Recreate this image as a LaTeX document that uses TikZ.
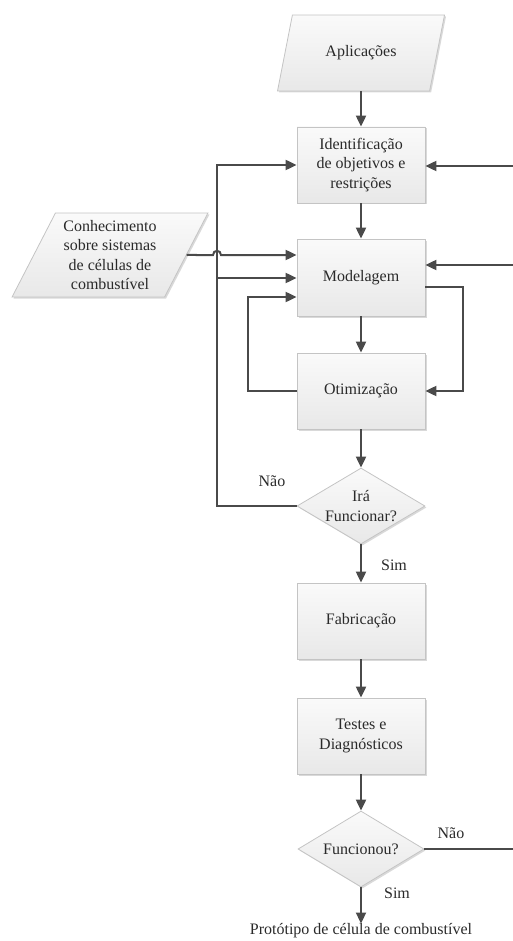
\documentclass[tikz,border=0pt]{standalone}
\usepackage{fontspec}
\setmainfont{Liberation Serif}
\usetikzlibrary{shapes.geometric,arrows.meta,shadows,calc}
\definecolor{linec}{HTML}{4A4A4A}
\definecolor{txtc}{HTML}{2A2A2A}
\definecolor{edgec}{HTML}{C4C4C4}
\begin{document}
\begin{tikzpicture}[x=1pt,y=-1pt,
  every node/.style={font=\rmfamily\fontsize{16}{19.5}\selectfont, text=txtc},
  shapebase/.style={draw=edgec, line width=0.8pt, top color=white!98!black, bottom color=white!91!black,
     drop shadow={shadow xshift=1.5pt, shadow yshift=-1.5pt, fill=black, opacity=0.15}},
  procbox/.style={shapebase, rectangle, minimum width=128pt, minimum height=76pt, align=center, inner sep=2pt},
  iobox/.style={shapebase, trapezium, trapezium left angle=62, trapezium right angle=118,
     trapezium stretches=true, align=center, inner sep=0pt},
  decbox/.style={shapebase, diamond, minimum width=128pt, minimum height=76pt, inner sep=0pt},
  dectext/.style={align=center, inner sep=0pt},
  conn/.style={draw=linec, line width=2pt},
  arr/.style={conn, -{Triangle[length=11pt,width=10pt]}},
  lbl/.style={inner sep=0pt}
]
\useasboundingbox (0,0) rectangle (513,941);

% nodes
\node[iobox, minimum width=168pt, minimum height=76pt] (app) at (361,53) {Aplicações};
\node[procbox] (ident) at (361,165) {Identificação\\de objetivos e\\restrições};
\node[iobox, minimum width=196pt, minimum height=84pt] (conh) at (110,255) {Conhecimento\\sobre sistemas\\de células de\\combustível};
\node[procbox, minimum height=77pt] (model) at (361,277.5) {Modelagem};
\node[procbox] (otim) at (361,391) {Otimização};
\node[decbox] (dec1) at (361,506) {};
\node[dectext] (dec1t) at (dec1) {Irá\\Funcionar?};
\node[procbox] (fab) at (361,621) {Fabricação};
\node[procbox] (test) at (361,736) {Testes e\\Diagnósticos};
\node[decbox, minimum width=126pt] (dec2) at (361,849) {};
\node[dectext] (dec2t) at (dec2) {Funcionou?};
\node[lbl] (out) at (361,931) {Protótipo de célula de combustível};

% labels
\node[lbl] (nao1) at (272,481) {Não};
\node[lbl] (sim1) at (394,565) {Sim};
\node[lbl] (nao2) at (451,833) {Não};
\node[lbl] (sim2) at (397,893) {Sim};

% coordinates
\coordinate (L1) at (217,506);
\coordinate (L2) at (217,278);
\coordinate (R1) at (513,166);
\coordinate (R2) at (513,265);
\coordinate (R3) at (513,849);
\coordinate (M1) at (463,287);
\coordinate (O1) at (248,297);
\coordinate (H1) at (213,255);
\coordinate (H2) at (221,255);

% main flow
\draw[arr] (app.south) -- (ident.north);
\draw[arr] (ident.south) -- (model.north);
\draw[arr] (model.south) -- (otim.north);
\draw[arr] (otim.south) -- (dec1.north);
\draw[arr] (dec1.south) -- (fab.north);
\draw[arr] (fab.south) -- (test.north);
\draw[arr] (test.south) -- (dec2.north);
\draw[arr] (dec2.south) -- (out.north);

% left feedback
\draw[arr] (dec1.west) -- (L1) |- (ident.west);
\draw[arr] (L2) -- (L2 -| model.west);

% knowledge input with hop
\draw[arr] (conh.east) -- (H1) .. controls (213,249.5) and (221,249.5) .. (H2) -- (H2 -| model.west);

% right inputs
\draw[arr] (R1) -- (R1 -| ident.east);
\draw[arr] (R2) -- (R2 -| model.east);
\draw[conn] (dec2.east) -- (R3);

% modelagem / otimizacao loops
\draw[arr] (M1 -| model.east) -- (M1) |- (otim.east);
\draw[arr] (otim.west) -| (O1) -- (O1 -| model.west);
\end{tikzpicture}
\end{document}
